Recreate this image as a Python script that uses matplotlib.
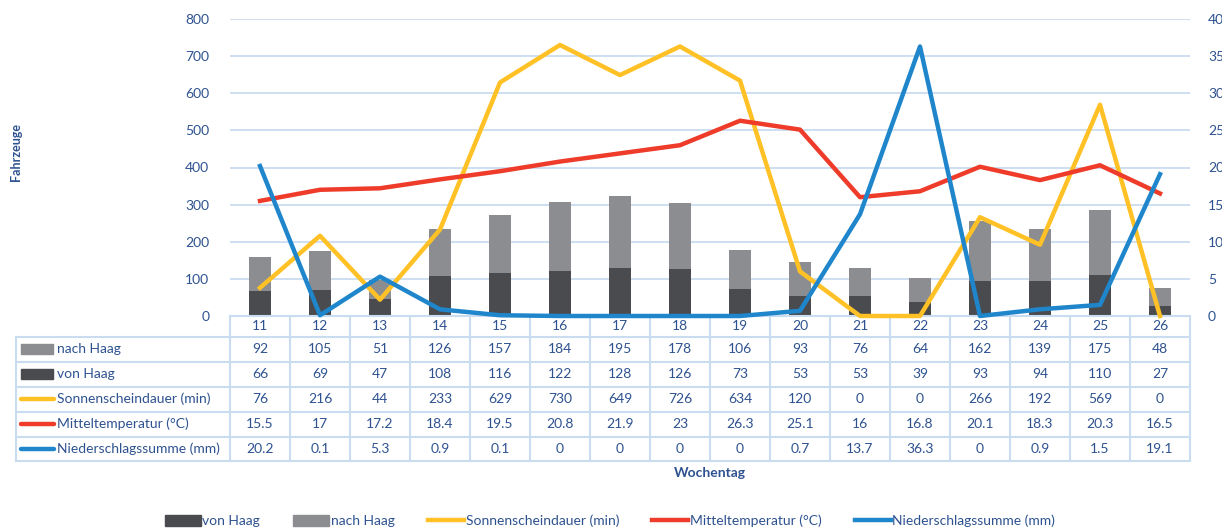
import numpy as np
import matplotlib
matplotlib.use("Agg")
import matplotlib.pyplot as plt
from matplotlib.transforms import blended_transform_factory
from matplotlib.lines import Line2D
from matplotlib.patches import Rectangle

plt.rcParams['font.family'] = ['Lato', 'DejaVu Sans']

# data
weeks = [11, 12, 13, 14, 15, 16, 17, 18, 19, 20, 21, 22, 23, 24, 25, 26]
nach_haag = [92, 105, 51, 126, 157, 184, 195, 178, 106, 93, 76, 64, 162, 139, 175, 48]
von_haag = [66, 69, 47, 108, 116, 122, 128, 126, 73, 53, 53, 39, 93, 94, 110, 27]
sonne = [76, 216, 44, 233, 629, 730, 649, 726, 634, 120, 0, 0, 266, 192, 569, 0]
temp = [15.5, 17, 17.2, 18.4, 19.5, 20.8, 21.9, 23, 26.3, 25.1, 16, 16.8, 20.1, 18.3, 20.3, 16.5]
regen = [20.2, 0.1, 5.3, 0.9, 0.1, 0, 0, 0, 0, 0.7, 13.7, 36.3, 0, 0.9, 1.5, 19.1]

txt = '#2E5290'
grid_c = '#C9DCF0'
c_nach = '#8C8D90'
c_von = '#4A4B4F'
c_sonne = '#FFC125'
c_temp = '#EE3B2A'
c_regen = '#1F86CC'

W, H = 1222, 529
fig = plt.figure(figsize=(W / 100, H / 100), dpi=100)
x0, x1, ytop, ybot = 230, 1190, 19, 316
ax = fig.add_axes([x0 / W, 1 - ybot / H, (x1 - x0) / W, (ybot - ytop) / H])
ax2 = ax.twinx()

x = np.arange(len(weeks))
ax.bar(x, von_haag, width=0.38, color=c_von, zorder=2)
ax.bar(x, nach_haag, width=0.38, bottom=von_haag, color=c_nach, zorder=2)
ax.plot(x, sonne, color=c_sonne, lw=3.2, zorder=3, clip_on=False)
ax2.plot(x, temp, color=c_temp, lw=3.2, zorder=3, clip_on=False)
ax2.plot(x, regen, color=c_regen, lw=3.2, zorder=4, clip_on=False)

ax.set_xlim(-0.5, len(weeks) - 0.5)
ax.set_ylim(0, 800)
ax2.set_ylim(0, 40)
ax.set_yticks(range(0, 801, 100))
ax2.set_yticks(range(0, 41, 5))
ax.set_xticks([])
for a in (ax, ax2):
    for s in a.spines.values():
        s.set_visible(False)
    a.tick_params(length=0, labelsize=10, labelcolor=txt)
ax.tick_params(axis='y', pad=15)
ax2.tick_params(axis='y', pad=13)
ax.yaxis.grid(True, color=grid_c, lw=1.3)
ax.set_axisbelow(True)

fig.text(16 / W, 1 - 152 / H, 'Fahrzeuge', rotation=90, ha='center', va='center',
         color=txt, fontsize=9, fontweight='bold')

# data table below the plot
tr = blended_transform_factory(ax.transData, ax.transAxes)
ph = ybot - ytop


def ya(py):
    return (ybot - py) / ph


def xd(px):
    return -0.5 + (px - x0) / 60.0


row_edges = [316, 337, 361.5, 386.5, 411.5, 436.5, 461]
lab_left = xd(16)
n = len(weeks)
kw = dict(transform=tr, color=grid_c, lw=1.5, clip_on=False)
# horizontal lines
ax.add_line(Line2D([-0.5, n - 0.5], [ya(316)] * 2, **kw))
for py in row_edges[1:]:
    ax.add_line(Line2D([lab_left, n - 0.5], [ya(py)] * 2, **kw))
# vertical lines
for i in range(n + 1):
    ax.add_line(Line2D([i - 0.5] * 2, [ya(316), ya(461)], **kw))
ax.add_line(Line2D([lab_left] * 2, [ya(337), ya(461)], **kw))

for i, w in enumerate(weeks):
    ax.text(i, ya((316 + 337) / 2), str(w), transform=tr, ha='center', va='center',
            color=txt, fontsize=10, clip_on=False)

rows = [
    ('nach Haag', nach_haag, c_nach, 'bar'),
    ('von Haag', von_haag, c_von, 'bar'),
    ('Sonnenscheindauer (min)', sonne, c_sonne, 'line'),
    ('Mitteltemperatur (°C)', temp, c_temp, 'line'),
    ('Niederschlagssumme (mm)', regen, c_regen, 'line'),
]
for r, (name, vals, col, kind) in enumerate(rows):
    yc = ya((row_edges[r + 1] + row_edges[r + 2]) / 2)
    if kind == 'bar':
        ax.add_patch(Rectangle((xd(21), yc - 5 / ph), xd(53) - xd(21), 10 / ph,
                               transform=tr, color=col, clip_on=False))
    else:
        ax.add_line(Line2D([xd(21), xd(54)], [yc, yc], transform=tr, color=col,
                           lw=3.2, clip_on=False, solid_capstyle='round'))
    ax.text(xd(57), yc, name, transform=tr, ha='left', va='center', color=txt,
            fontsize=10, clip_on=False)
    for i, v in enumerate(vals):
        ax.text(i, yc, '%g' % v, transform=tr, ha='center', va='center',
                color=txt, fontsize=10, clip_on=False)

fig.text((x0 + x1) / 2 / W, 1 - 473 / H, 'Wochentag', ha='center', va='center',
         color=txt, fontsize=10, fontweight='bold')

handles = [
    Rectangle((0, 0), 1, 1, color=c_von),
    Rectangle((0, 0), 1, 1, color=c_nach),
    Line2D([], [], color=c_sonne, lw=3.2),
    Line2D([], [], color=c_temp, lw=3.2),
    Line2D([], [], color=c_regen, lw=3.2),
]
labels = ['von Haag', 'nach Haag', 'Sonnenscheindauer (min)', 'Mitteltemperatur (°C)',
          'Niederschlagssumme (mm)']
leg = fig.legend(handles, labels, loc='center', bbox_to_anchor=(610 / W, 1 - 521 / H),
                 ncol=5, frameon=False, fontsize=10, handlelength=2.6, handleheight=0.8,
                 handletextpad=0.1, columnspacing=2.4, labelcolor=txt)

fig.savefig('out.png', dpi=100)
